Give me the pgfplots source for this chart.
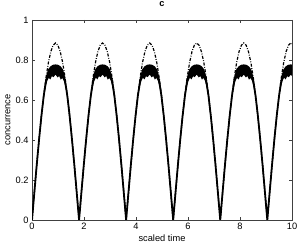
\documentclass[border=0pt]{standalone}
\usepackage{pgfplots}
\pgfplotsset{compat=1.18}
\usepackage{pgfplotstable}
\usepackage{fontspec}
\setmainfont{Liberation Sans}

\pgfplotstableread{
x d s
0 0 0
0.0905 0.138 0.138
0.181 0.274 0.274
0.2715 0.402 0.402
0.362 0.520 0.520
0.4525 0.626 0.622
0.543 0.716 0.698
0.6335 0.789 0.735
0.724 0.842 0.748
0.8145 0.874 0.752
0.905 0.885 0.753
0.9955 0.874 0.752
1.086 0.842 0.748
1.1765 0.789 0.735
1.267 0.716 0.698
1.3575 0.626 0.622
1.448 0.520 0.520
1.5385 0.402 0.402
1.629 0.274 0.274
1.7195 0.138 0.138
1.81 0 0
1.9005 0.138 0.138
1.991 0.274 0.274
2.0815 0.402 0.402
2.172 0.520 0.520
2.2625 0.626 0.622
2.353 0.716 0.698
2.4435 0.789 0.735
2.534 0.842 0.748
2.6245 0.874 0.752
2.715 0.885 0.753
2.8055 0.874 0.752
2.896 0.842 0.748
2.9865 0.789 0.735
3.077 0.716 0.698
3.1675 0.626 0.622
3.258 0.520 0.520
3.3485 0.402 0.402
3.439 0.274 0.274
3.5295 0.138 0.138
3.62 0 0
3.7105 0.138 0.138
3.801 0.274 0.274
3.8915 0.402 0.402
3.982 0.520 0.520
4.0725 0.626 0.622
4.163 0.716 0.698
4.2535 0.789 0.735
4.344 0.842 0.748
4.4345 0.874 0.752
4.525 0.885 0.753
4.6155 0.874 0.752
4.706 0.842 0.748
4.7965 0.789 0.735
4.887 0.716 0.698
4.9775 0.626 0.622
5.068 0.520 0.520
5.1585 0.402 0.402
5.249 0.274 0.274
5.3395 0.138 0.138
5.43 0 0
5.5205 0.138 0.138
5.611 0.274 0.274
5.7015 0.402 0.402
5.792 0.520 0.520
5.8825 0.626 0.622
5.973 0.716 0.698
6.0635 0.789 0.735
6.154 0.842 0.748
6.2445 0.874 0.752
6.335 0.885 0.753
6.4255 0.874 0.752
6.516 0.842 0.748
6.6065 0.789 0.735
6.697 0.716 0.698
6.7875 0.626 0.622
6.878 0.520 0.520
6.9685 0.402 0.402
7.059 0.274 0.274
7.1495 0.138 0.138
7.24 0 0
7.3305 0.138 0.138
7.421 0.274 0.274
7.5115 0.402 0.402
7.602 0.520 0.520
7.6925 0.626 0.622
7.783 0.716 0.698
7.8735 0.789 0.735
7.964 0.842 0.748
8.0545 0.874 0.752
8.145 0.885 0.753
8.2355 0.874 0.752
8.326 0.842 0.748
8.4165 0.789 0.735
8.507 0.716 0.698
8.5975 0.626 0.622
8.688 0.520 0.520
8.7785 0.402 0.402
8.869 0.274 0.274
8.9595 0.138 0.138
9.05 0 0
9.1405 0.138 0.138
9.231 0.274 0.274
9.3215 0.402 0.402
9.412 0.520 0.520
9.5025 0.626 0.622
9.593 0.716 0.698
9.6835 0.789 0.735
9.774 0.842 0.748
9.8645 0.874 0.752
9.955 0.885 0.753
10 0.882 0.753
}\curves

\begin{document}
\begin{tikzpicture}
\begin{axis}[
  scale only axis,
  width=260bp, height=200bp,
  xmin=0, xmax=10, ymin=0, ymax=1,
  xtick={0,2,4,6,8,10},
  ytick={0,0.2,0.4,0.6,0.8,1},
  tick align=inside,
  major tick length=3bp,
  axis line style={black!75, line width=0.5pt},
  every tick/.style={black!75, line width=0.5pt},
  font=\fontsize{9.3}{11}\selectfont,
  /pgf/number format/assume math mode=true,
  title={c},
  title style={at={(axis description cs:0.5,1)}, anchor=center, yshift=10bp, font=\fontsize{9.3}{11}\selectfont\bfseries},
  xlabel={scaled time},
  xlabel style={at={(axis description cs:0.5,-0.093)}, anchor=center},
  ylabel={concurrence},
  ylabel style={at={(axis description cs:-0.0923,0.5)}, anchor=center},
]
\addplot[black, line width=1.8pt] table[x=x, y=s] {\curves};
\addplot[fill=black, draw=none] coordinates {(0.455,0.64) (0.545,0.718) (0.615,0.752) (0.705,0.768) (0.805,0.776) (0.905,0.778) (1.005,0.776) (1.105,0.768) (1.195,0.752) (1.265,0.718) (1.355,0.64) (1.355,0.615) (1.285,0.665) (1.225,0.695) (1.165,0.71) (1.105,0.702) (1.045,0.72) (0.985,0.713) (0.905,0.727) (0.825,0.714) (0.765,0.719) (0.705,0.703) (0.645,0.711) (0.585,0.695) (0.525,0.665) (0.455,0.615)} -- cycle;
\addplot[fill=black, draw=none] coordinates {(2.265,0.64) (2.355,0.718) (2.425,0.752) (2.515,0.768) (2.615,0.776) (2.715,0.778) (2.815,0.776) (2.915,0.768) (3.005,0.752) (3.075,0.718) (3.165,0.64) (3.165,0.615) (3.095,0.665) (3.035,0.695) (2.975,0.71) (2.915,0.702) (2.855,0.72) (2.795,0.713) (2.715,0.727) (2.635,0.714) (2.575,0.719) (2.515,0.703) (2.455,0.711) (2.395,0.695) (2.335,0.665) (2.265,0.615)} -- cycle;
\addplot[fill=black, draw=none] coordinates {(4.075,0.64) (4.165,0.718) (4.235,0.752) (4.325,0.768) (4.425,0.776) (4.525,0.778) (4.625,0.776) (4.725,0.768) (4.815,0.752) (4.885,0.718) (4.975,0.64) (4.975,0.615) (4.905,0.665) (4.845,0.695) (4.785,0.71) (4.725,0.702) (4.665,0.72) (4.605,0.713) (4.525,0.727) (4.445,0.714) (4.385,0.719) (4.325,0.703) (4.265,0.711) (4.205,0.695) (4.145,0.665) (4.075,0.615)} -- cycle;
\addplot[fill=black, draw=none] coordinates {(5.885,0.64) (5.975,0.718) (6.045,0.752) (6.135,0.768) (6.235,0.776) (6.335,0.778) (6.435,0.776) (6.535,0.768) (6.625,0.752) (6.695,0.718) (6.785,0.64) (6.785,0.615) (6.715,0.665) (6.655,0.695) (6.595,0.71) (6.535,0.702) (6.475,0.72) (6.415,0.713) (6.335,0.727) (6.255,0.714) (6.195,0.719) (6.135,0.703) (6.075,0.711) (6.015,0.695) (5.955,0.665) (5.885,0.615)} -- cycle;
\addplot[fill=black, draw=none] coordinates {(7.695,0.64) (7.785,0.718) (7.855,0.752) (7.945,0.768) (8.045,0.776) (8.145,0.778) (8.245,0.776) (8.345,0.768) (8.435,0.752) (8.505,0.718) (8.595,0.64) (8.595,0.615) (8.525,0.665) (8.465,0.695) (8.405,0.71) (8.345,0.702) (8.285,0.72) (8.225,0.713) (8.145,0.727) (8.065,0.714) (8.005,0.719) (7.945,0.703) (7.885,0.711) (7.825,0.695) (7.765,0.665) (7.695,0.615)} -- cycle;
\addplot[fill=black, draw=none] coordinates {(9.505,0.64) (9.595,0.718) (9.665,0.752) (9.755,0.768) (9.855,0.776) (9.955,0.778) (10.055,0.776) (10.155,0.768) (10.245,0.752) (10.315,0.718) (10.405,0.64) (10.405,0.615) (10.335,0.665) (10.275,0.695) (10.215,0.71) (10.155,0.702) (10.095,0.72) (10.035,0.713) (9.955,0.727) (9.875,0.714) (9.815,0.719) (9.755,0.703) (9.695,0.711) (9.635,0.695) (9.575,0.665) (9.505,0.615)} -- cycle;
\addplot[black, line width=1.2pt, dash pattern=on 3bp off 1.5bp on 0.8bp off 1.5bp] table[x=x, y=d] {\curves};
\end{axis}
\pgfresetboundingbox
\path ([shift={(-32bp,-25bp)}]current axis.south west) rectangle ([shift={(8bp,20bp)}]current axis.north east);
\end{tikzpicture}
\end{document}
